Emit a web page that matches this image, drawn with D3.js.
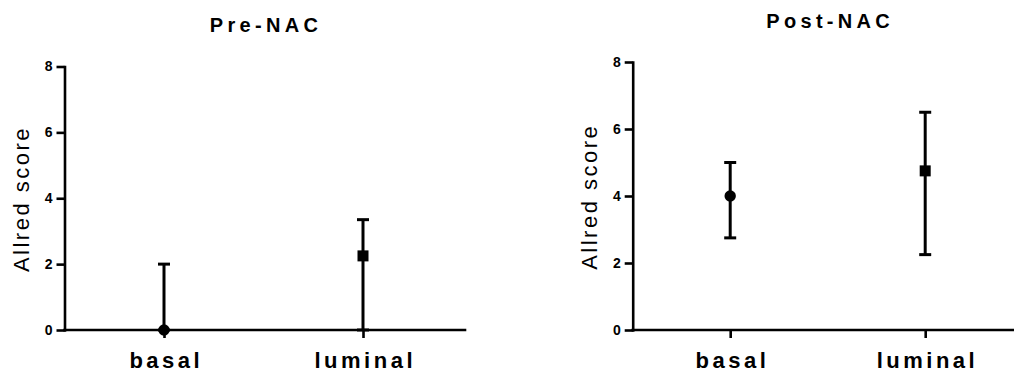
<!DOCTYPE html>
<html>
<head>
<meta charset="utf-8">
<script src="https://cdn.jsdelivr.net/npm/d3@7"></script>
<style>
  html, body { margin: 0; padding: 0; background: #fff; }
  svg { display: block; font-family: Arial, "Liberation Sans", sans-serif; }
</style>
</head>
<body>
<svg id="chart" width="1014" height="372"></svg>
<script>
"use strict";

// chart data
const categories = ["basal", "luminal"];
const markerShapes = ["circle", "square"];
const yTicks = [0, 2, 4, 6, 8];

const preMean = [0, 2.25];
const preLower = [0, 0];
const preUpper = [2, 3.35];

const postMean = [4, 4.75];
const postLower = [2.75, 2.25];
const postUpper = [5, 6.5];

// panel layout
const panels = [
  { title: "Pre-NAC", mean: preMean, lower: preLower, upper: preUpper,
    x0: 64.5, x1: 462.5, xEnd: 465, yTop: 66.5, yBottom: 330, titleY: 31.5, labelX: 28.5 },
  { title: "Post-NAC", mean: postMean, lower: postLower, upper: postUpper,
    x0: 632.7, x1: 1022.7, xEnd: 1022.7, yTop: 62, yBottom: 330, titleY: 28.3, labelX: 597.3 }
];

const svg = d3.select("#chart");

function drawPanel(p) {
  const g = svg.append("g");

  const x = d3.scalePoint().domain(categories).range([p.x0, p.x1]).padding(0.5);
  const y = d3.scaleLinear().domain([0, 8]).range([p.yBottom, p.yTop]);

  // y axis
  const yAxis = g.append("g")
    .attr("transform", `translate(${p.x0},0)`)
    .call(d3.axisLeft(y).tickValues(yTicks).tickSize(8).tickSizeOuter(0).tickPadding(4));

  // x axis
  const xAxis = g.append("g")
    .attr("transform", `translate(0,${p.yBottom})`)
    .call(d3.axisBottom(x).tickSize(8).tickSizeOuter(0).tickPadding(14));

  xAxis.select(".domain").attr("d", `M${p.x0},0H${p.xEnd}`);

  [yAxis, xAxis].forEach(a => {
    a.select(".domain").attr("stroke", "#000").attr("stroke-width", 2.6).attr("stroke-linecap", "square");
    a.selectAll(".tick line").attr("stroke", "#000").attr("stroke-width", 2.6);
  });

  yAxis.selectAll(".tick text")
    .attr("fill", "#000")
    .style("font-size", "14px")
    .style("font-weight", "bold");

  xAxis.selectAll(".tick text")
    .attr("fill", "#000")
    .style("font-size", "22px")
    .style("font-weight", "bold")
    .style("letter-spacing", "3.5px")
    .attr("dx", "1.75px");

  // title
  g.append("text")
    .attr("x", (p.x0 + p.x1) / 2 + 2.5)
    .attr("y", p.titleY)
    .attr("text-anchor", "middle")
    .style("font-size", "20px")
    .style("font-weight", "bold")
    .style("letter-spacing", "4.3px")
    .text(p.title);

  // y label
  g.append("text")
    .attr("transform", `translate(${p.labelX},${(p.yTop + p.yBottom) / 2 + 2}) rotate(-90)`)
    .attr("text-anchor", "middle")
    .attr("dx", "1.25px")
    .style("font-size", "22px")
    .style("letter-spacing", "2.5px")
    .text("Allred score");

  // error bars
  const bars = g.append("g").selectAll("g").data(categories).join("g");
  bars.append("line")
    .attr("x1", d => x(d)).attr("x2", d => x(d))
    .attr("y1", (d, i) => y(p.lower[i]))
    .attr("y2", (d, i) => y(p.upper[i]))
    .attr("stroke", "#000").attr("stroke-width", 3);
  bars.append("line")
    .attr("x1", d => x(d) - 6).attr("x2", d => x(d) + 6)
    .attr("y1", (d, i) => y(p.upper[i]))
    .attr("y2", (d, i) => y(p.upper[i]))
    .attr("stroke", "#000").attr("stroke-width", 3);
  bars.append("line")
    .attr("x1", d => x(d) - 6).attr("x2", d => x(d) + 6)
    .attr("y1", (d, i) => y(p.lower[i]))
    .attr("y2", (d, i) => y(p.lower[i]))
    .attr("stroke", "#000").attr("stroke-width", 3);

  // mean markers
  bars.each(function (d, i) {
    const sel = d3.select(this);
    if (markerShapes[i] === "circle") {
      sel.append("circle")
        .attr("cx", x(d)).attr("cy", y(p.mean[i])).attr("r", 5.7)
        .attr("fill", "#000");
    } else {
      sel.append("rect")
        .attr("x", x(d) - 5.5).attr("y", y(p.mean[i]) - 5.5)
        .attr("width", 11).attr("height", 11)
        .attr("fill", "#000");
    }
  });
}

panels.forEach(drawPanel);
</script>
</body>
</html>
